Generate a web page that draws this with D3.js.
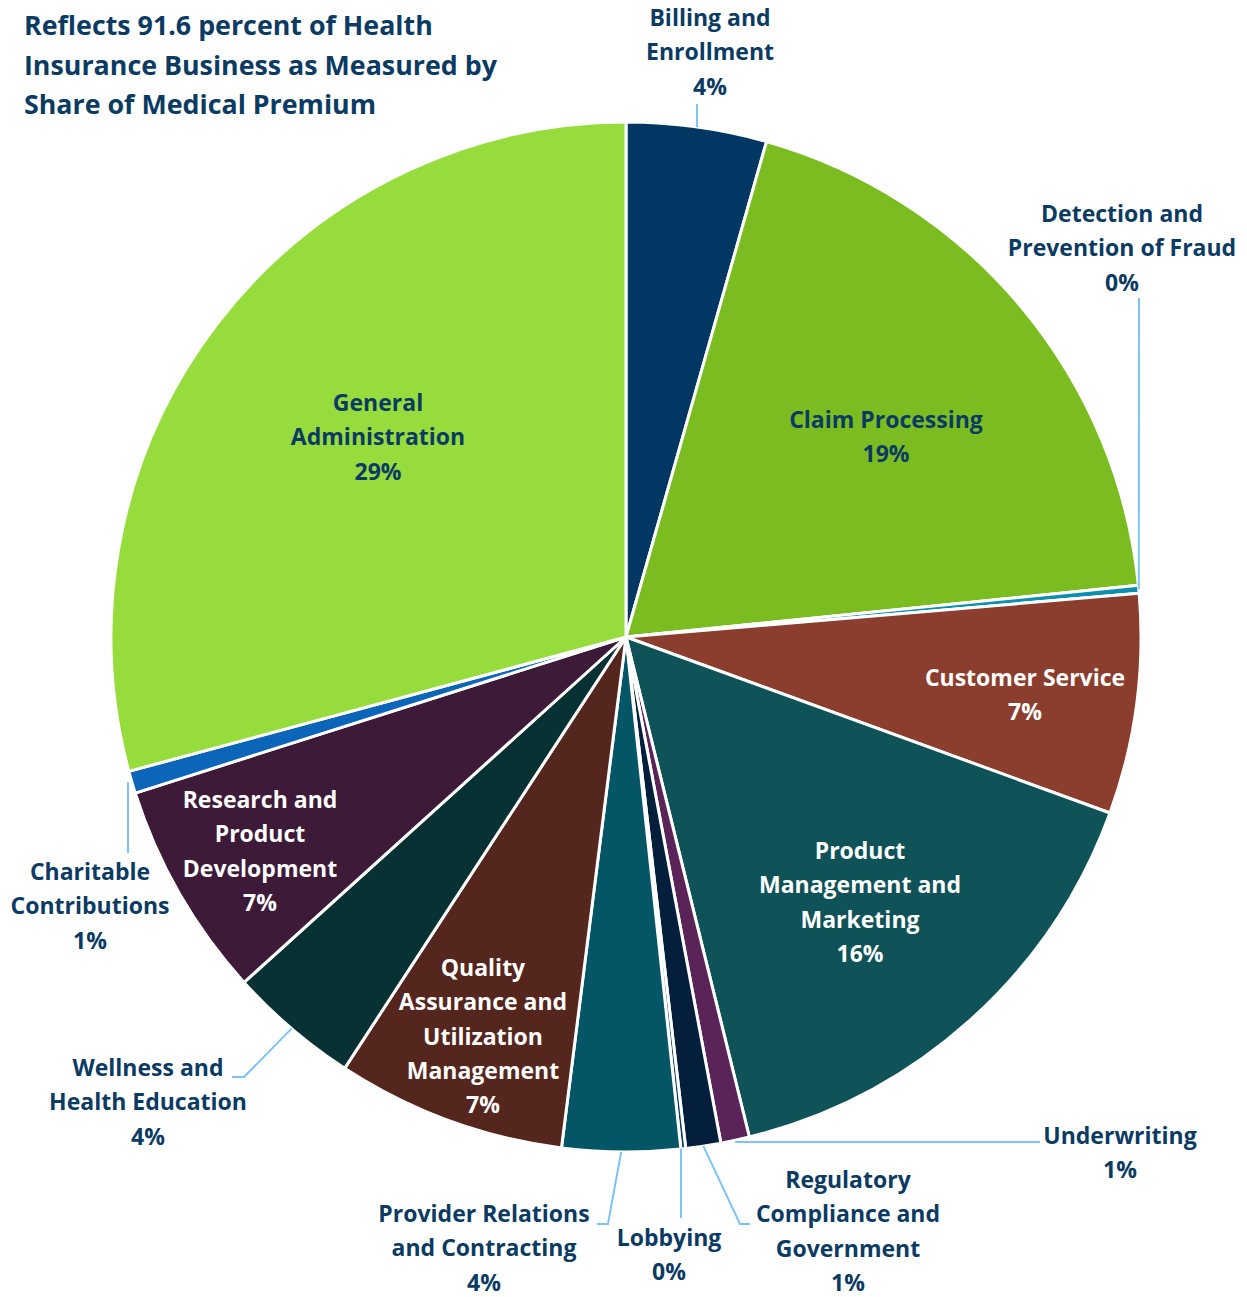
<!DOCTYPE html>
<html>
<head>
<meta charset="utf-8">
<script src="https://cdn.jsdelivr.net/npm/d3@7"></script>
<style>
  body { margin: 0; background: #fff; }
  text { font-family: "Open Sans", Lato, sans-serif; font-weight: 700; }
</style>
</head>
<body>
<div id="chart"></div>
<script>
// slice names (clockwise from 12 o'clock)
const categories = [
  'Billing and Enrollment', 'Claim Processing', 'Detection and Prevention of Fraud',
  'Customer Service', 'Product Management and Marketing', 'Underwriting',
  'Regulatory Compliance and Government', 'Lobbying', 'Provider Relations and Contracting',
  'Quality Assurance and Utilization Management', 'Wellness and Health Education',
  'Research and Product Development', 'Charitable Contributions', 'General Administration'
];
// share of admin spending, percent
const values = [4.4, 19.0, 0.25, 6.9, 15.6, 0.9, 1.1, 0.15, 3.7, 7.2, 4.1, 6.8, 0.7, 29.2];
// how each label breaks into lines
const labelLines = [
  ['Billing and', 'Enrollment'],
  ['Claim Processing'],
  ['Detection and', 'Prevention of Fraud'],
  ['Customer Service'],
  ['Product', 'Management and', 'Marketing'],
  ['Underwriting'],
  ['Regulatory', 'Compliance and', 'Government'],
  ['Lobbying'],
  ['Provider Relations', 'and Contracting'],
  ['Quality', 'Assurance and', 'Utilization', 'Management'],
  ['Wellness and', 'Health Education'],
  ['Research and', 'Product', 'Development'],
  ['Charitable', 'Contributions'],
  ['General', 'Administration']
];
const colors = [
  '#023764', '#7bbd21', '#0e8fb0', '#8b3e2e', '#0f5257', '#5b2458', '#031f3c',
  '#0b3a63', '#045565', '#55261d', '#083134', '#3c1a38', '#0b65b8', '#96dc3c'
];
const titleLines = [
  'Reflects 91.6 percent of Health',
  'Insurance Business as Measured by',
  'Share of Medical Premium'
];

// label layout: x,y = centre of the first line; light = white text; leader = path after the rim point
const layout = [
  {x: 710, y: 18, light: false, leader: [[697, 104]]},
  {x: 886, y: 420, light: false},
  {x: 1122, y: 214, light: false, leader: [[1139, 298]]},
  {x: 1025, y: 678, light: true},
  {x: 860, y: 851, light: true},
  {x: 1120, y: 1136, light: false, leader: [[1040, 1142]], flat: true},
  {x: 848, y: 1180, light: false, leader: [[740, 1224], [750, 1224]]},
  {x: 669, y: 1238, light: false, leader: [[681, 1218]], vertical: true},
  {x: 484, y: 1214, light: false, leader: [[608, 1224], [597, 1224]]},
  {x: 483, y: 968, light: true},
  {x: 148, y: 1068, light: false, leader: [[244, 1077], [232, 1077]]},
  {x: 260, y: 800, light: true},
  {x: 90, y: 872, light: false, leader: [[128, 853]], vertical: true},
  {x: 378, y: 403, light: false}
];

const width = 1247, height = 1297;
const cx = 626, cy = 637, radius = 515;
const lineH = 34.3;
const textColor = '#0b3a63';

const svg = d3.select('#chart').append('svg')
  .attr('width', width)
  .attr('height', height);

// title
svg.append('g').selectAll('text')
  .data(titleLines)
  .join('text')
  .attr('x', 24)
  .attr('y', (d, i) => 35 + i * 39.5)
  .attr('fill', textColor)
  .style('font-size', '26.8px')
  .text(d => d);

const data = values.map((v, i) => ({name: categories[i], value: v, i}));

const pie = d3.pie()
  .sort(null)
  .value(d => d.value);

const arc = d3.arc()
  .innerRadius(0)
  .outerRadius(radius);

const arcs = pie(data);

const g = svg.append('g')
  .attr('transform', `translate(${cx},${cy})`);

g.selectAll('path.slice')
  .data(arcs)
  .join('path')
  .attr('class', 'slice')
  .attr('d', arc)
  .attr('fill', d => colors[d.data.i])
  .attr('stroke', '#fff')
  .attr('stroke-width', 3)
  .attr('stroke-linejoin', 'round');

// leader lines, starting on the rim at each slice's mid angle
const leaders = svg.append('g');
arcs.forEach(a => {
  const lay = layout[a.data.i];
  if (!lay.leader) return;
  const mid = (a.startAngle + a.endAngle) / 2;
  const pts = [[cx + radius * Math.sin(mid), cy - radius * Math.cos(mid)]].concat(lay.leader);
  if (lay.vertical) pts[0][0] = lay.leader[0][0];
  if (lay.flat) pts[0][1] = lay.leader[0][1];
  leaders.append('path')
    .attr('d', d3.line()(pts))
    .attr('fill', 'none')
    .attr('stroke', '#7cc3f7')
    .attr('stroke-width', 2);
});

// labels
const labels = svg.append('g');
arcs.forEach(a => {
  const i = a.data.i;
  const lay = layout[i];
  const lines = labelLines[i].concat([Math.round(a.data.value) + '%']);
  const t = labels.append('text')
    .attr('text-anchor', 'middle')
    .attr('fill', lay.light ? '#fff' : textColor)
    .style('font-size', '23px');
  t.selectAll('tspan')
    .data(lines)
    .join('tspan')
    .attr('x', lay.x)
    .attr('y', (d, k) => lay.y + k * lineH)
    .attr('dy', '0.35em')
    .text(d => d);
});
</script>
</body>
</html>
